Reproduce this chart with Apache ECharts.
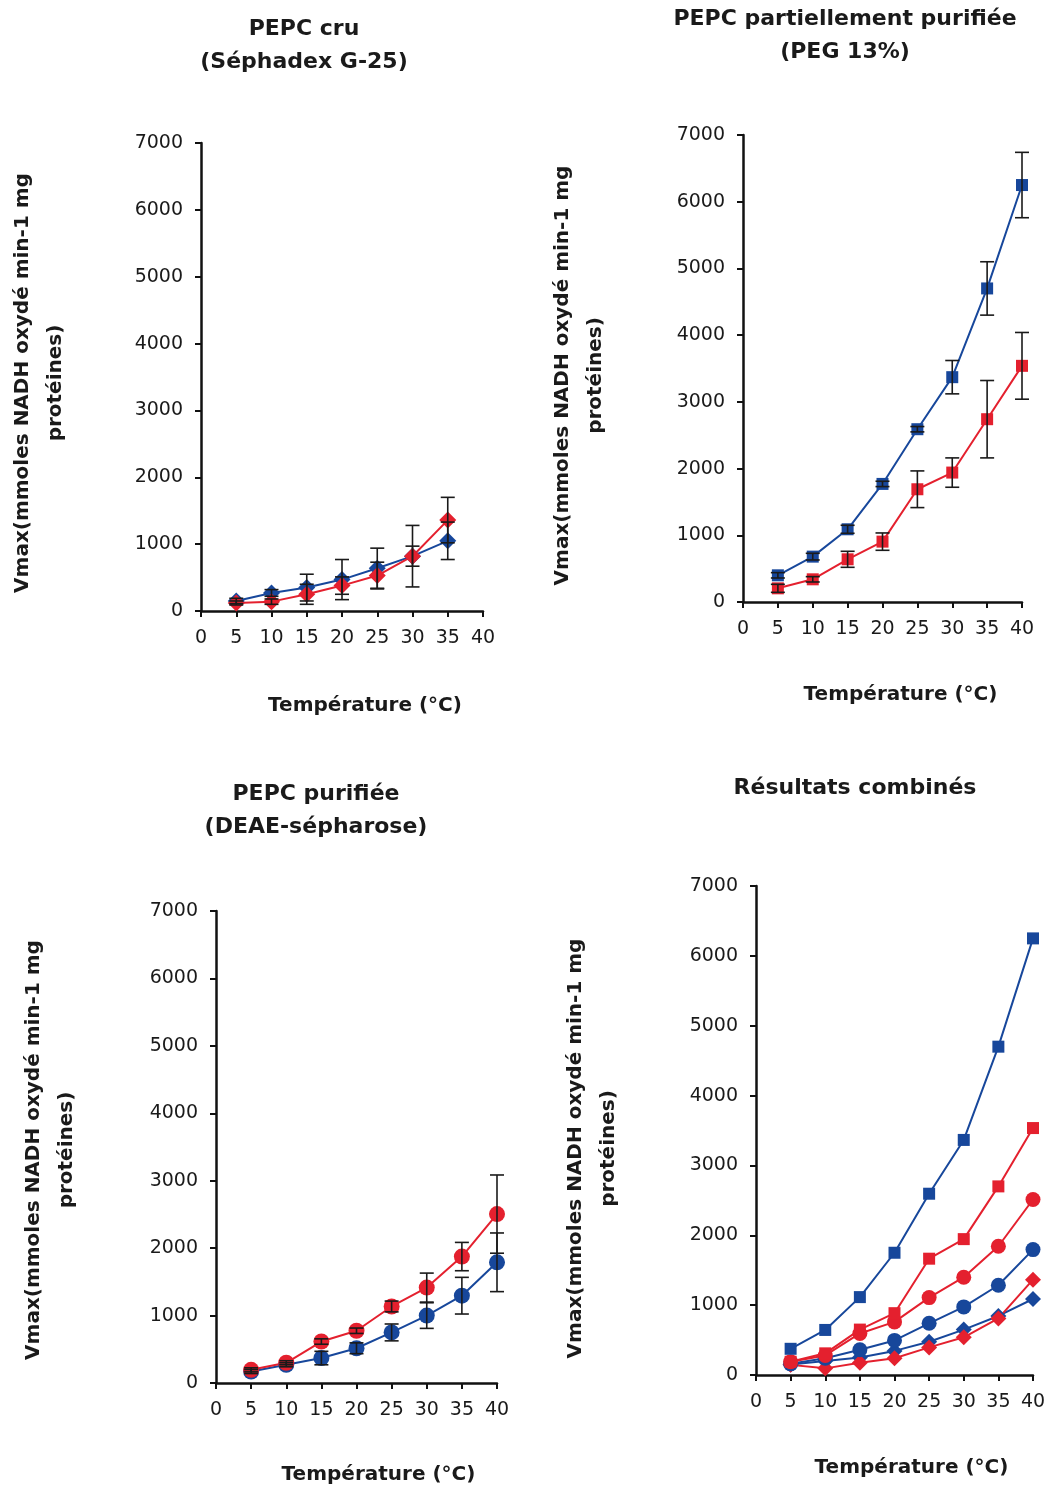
<!DOCTYPE html>
<html>
<head>
<meta charset="utf-8">
<script src="https://cdn.jsdelivr.net/npm/echarts@6/dist/echarts.min.js"></script>
<style>
  html, body { margin: 0; padding: 0; background: #fff; }
  #chart { width: 1049px; height: 1489px; }
</style>
</head>
<body>
<div id="chart"></div>
<script>
// Temperatures (°C)
const tempsCru = [5, 10, 15, 20, 25, 30, 35];
const temps = [5, 10, 15, 20, 25, 30, 35, 40];
const xTicks = [0, 5, 10, 15, 20, 25, 30, 35, 40];
const yTicks = [0, 1000, 2000, 3000, 4000, 5000, 6000, 7000];

// PEPC cru (Séphadex G-25)
const cruBlue = [150, 270, 350, 470, 640, 820, 1050];
const cruBlueErr = [40, 50, 200, 300, 300, 460, 280];
const cruRed = [120, 140, 250, 380, 530, 820, 1360];
const cruRedErr = [30, 40, 150, 130, 200, 150, 340];

// PEPC partiellement purifiée (PEG 13%)
const pegBlue = [400, 680, 1090, 1770, 2590, 3370, 4700, 6250];
const pegBlueErr = [40, 50, 60, 40, 40, 250, 400, 490];
const pegRed = [205, 340, 640, 905, 1690, 1940, 2740, 3540];
const pegRedErr = [60, 40, 120, 130, 275, 220, 580, 500];

// PEPC purifiée (DEAE-sépharose)
const deaeRed = [195, 300, 615, 775, 1135, 1415, 1875, 2505];
const deaeRedErr = [30, 30, 40, 40, 80, 215, 210, 580];
const deaeBlue = [170, 270, 370, 515, 750, 1000, 1295, 1790];
const deaeBlueErr = [30, 30, 100, 80, 125, 190, 272, 435];

// Résultats combinés
const comboBlueSq = [375, 645, 1115, 1750, 2595, 3365, 4700, 6250];
const comboRedSq = [190, 310, 650, 885, 1665, 1945, 2700, 3535];
const comboRedCi = [190, 280, 595, 760, 1108, 1400, 1843, 2512];
const comboBlueCi = [160, 240, 362, 495, 740, 975, 1285, 1795];
const comboBlueDi = [150, 200, 250, 345, 475, 650, 845, 1088];
const comboRedDi = [145, 95, 175, 240, 395, 540, 810, 1365];

const FONT = 'DejaVu Sans';
const BLUE = '#17479b';
const RED = '#e4202e';
const INK = '#111';
const yName = 'Vmax(mmoles NADH oxydé min-1 mg\nprotéines)';
const xName = 'Température (°C)';

const grids = [
  { left: 201, top: 143, width: 282, height: 468 },
  { left: 743, top: 135, width: 279, height: 467 },
  { left: 216, top: 911, width: 281, height: 472 },
  { left: 756, top: 886, width: 277, height: 489 }
];

function plain(v) { return String(v); }

function makeX(i, nameGap, shift) {
  return {
    type: 'value', gridIndex: i, min: xTicks[0], max: xTicks[xTicks.length - 1], interval: 5,
    splitLine: { show: false },
    axisLine: { show: true, onZero: false, lineStyle: { color: INK, width: 2.5 } },
    axisTick: { show: true, length: 6, lineStyle: { color: INK, width: 2 } },
    axisLabel: { fontFamily: FONT, fontSize: 19, color: '#1a1a1a', margin: 18, formatter: plain },
    name: xName, nameLocation: 'middle', nameGap: nameGap,
    nameTextStyle: { fontFamily: FONT, fontWeight: 'bold', fontSize: 20, color: '#1a1a1a', padding: [0, 0, 0, shift * 2] }
  };
}

function makeY(i, nameGap, shift) {
  return {
    type: 'value', gridIndex: i, min: yTicks[0], max: yTicks[yTicks.length - 1], interval: 1000,
    splitLine: { show: false },
    axisLine: { show: true, lineStyle: { color: INK, width: 2.5 } },
    axisTick: { show: true, length: 6, lineStyle: { color: INK, width: 2 } },
    axisLabel: { fontFamily: FONT, fontSize: 19, color: '#1a1a1a', margin: 18, formatter: plain },
    name: yName, nameLocation: 'middle', nameRotate: 90, nameGap: nameGap,
    nameTextStyle: { fontFamily: FONT, fontWeight: 'bold', fontSize: 20, lineHeight: 33, color: '#1a1a1a', align: 'center', padding: [0, shift * 2, 0, 0] }
  };
}

function pairs(xs, ys) { return xs.map((x, k) => [x, ys[k]]); }

function lineSeries(gi, xs, ys, color, symbol, size) {
  return {
    type: 'line', xAxisIndex: gi, yAxisIndex: gi, data: pairs(xs, ys),
    symbol: symbol, symbolSize: size, showSymbol: true, z: 3,
    lineStyle: { color: color, width: 2 },
    itemStyle: { color: color, borderColor: color, borderWidth: 0 }
  };
}

function errSeries(gi, xs, vals, errs) {
  return {
    type: 'custom', xAxisIndex: gi, yAxisIndex: gi, z: 6, silent: true,
    encode: { x: 0, y: [1, 2] },
    data: xs.map((x, k) => [x, Math.max(0, vals[k] - errs[k]), vals[k] + errs[k]]),
    renderItem: function (params, api) {
      const x = api.value(0);
      const lo = api.coord([x, api.value(1)]);
      const hi = api.coord([x, api.value(2)]);
      const w = 7;
      const st = { stroke: '#1a1a1a', lineWidth: 1.6 };
      return {
        type: 'group', children: [
          { type: 'line', shape: { x1: lo[0], y1: lo[1], x2: hi[0], y2: hi[1] }, style: st },
          { type: 'line', shape: { x1: hi[0] - w, y1: hi[1], x2: hi[0] + w, y2: hi[1] }, style: st },
          { type: 'line', shape: { x1: lo[0] - w, y1: lo[1], x2: lo[0] + w, y2: lo[1] }, style: st }
        ]
      };
    }
  };
}

function titleAt(text, cx, top) {
  return {
    text: text, left: cx, top: top, textAlign: 'center', padding: 0,
    textStyle: { fontFamily: FONT, fontWeight: 'bold', fontSize: 22, lineHeight: 33, color: '#1a1a1a' }
  };
}

const option = {
  animation: false,
  backgroundColor: '#fff',
  title: [
    titleAt('PEPC cru\n(Séphadex G-25)', 304, 13),
    titleAt('PEPC partiellement purifiée\n(PEG 13%)', 845, 3),
    titleAt('PEPC purifiée\n(DEAE-sépharose)', 316, 778),
    titleAt('Résultats combinés', 855, 772)
  ],
  grid: grids,
  xAxis: [makeX(0, 85, 23), makeX(1, 83, 18), makeX(2, 82, 22), makeX(3, 83, 17)],
  yAxis: [makeY(0, 129, 6), makeY(1, 131, 7), makeY(2, 133, 3), makeY(3, 131, 18)],
  series: [
    // PEPC cru
    lineSeries(0, tempsCru, cruBlue, BLUE, 'diamond', 17),
    lineSeries(0, tempsCru, cruRed, RED, 'diamond', 17),
    errSeries(0, tempsCru, cruBlue, cruBlueErr),
    errSeries(0, tempsCru, cruRed, cruRedErr),
    // PEG 13%
    lineSeries(1, temps, pegBlue, BLUE, 'rect', 12),
    lineSeries(1, temps, pegRed, RED, 'rect', 12),
    errSeries(1, temps, pegBlue, pegBlueErr),
    errSeries(1, temps, pegRed, pegRedErr),
    // DEAE-sépharose
    lineSeries(2, temps, deaeBlue, BLUE, 'circle', 16),
    lineSeries(2, temps, deaeRed, RED, 'circle', 16),
    errSeries(2, temps, deaeBlue, deaeBlueErr),
    errSeries(2, temps, deaeRed, deaeRedErr),
    // Combined
    lineSeries(3, temps, comboBlueDi, BLUE, 'diamond', 16),
    lineSeries(3, temps, comboRedDi, RED, 'diamond', 16),
    lineSeries(3, temps, comboBlueCi, BLUE, 'circle', 15),
    lineSeries(3, temps, comboRedCi, RED, 'circle', 15),
    lineSeries(3, temps, comboRedSq, RED, 'rect', 12),
    lineSeries(3, temps, comboBlueSq, BLUE, 'rect', 12)
  ]
};

const chart = echarts.init(document.getElementById('chart'), null, { renderer: 'canvas' });
chart.setOption(option);
</script>
</body>
</html>
